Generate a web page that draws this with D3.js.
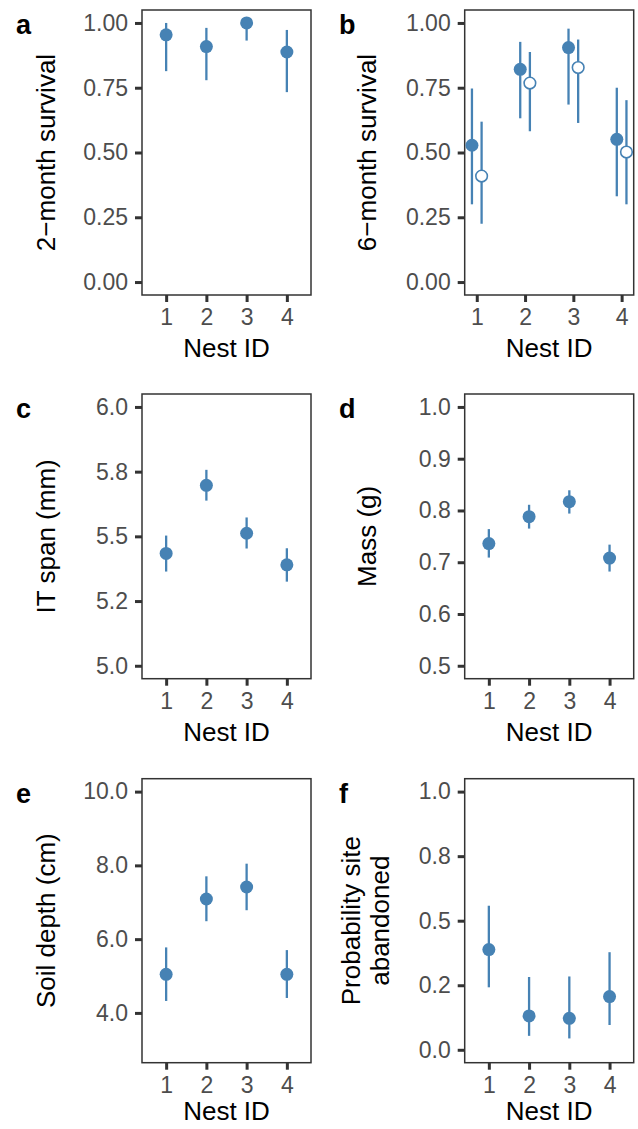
<!DOCTYPE html>
<meta charset="utf-8">
<script src="https://d3js.org/d3.v7.min.js"></script>
<style>
  body { margin: 0; background: #fff; }
  svg text { font-family: "Liberation Sans", Arial, sans-serif; }
</style>
<div id="chart"></div>
<script>

// nest ids on the x axis of every panel
var nests = ["1", "2", "3", "4"];

// a: 2-month survival
var surv2    = [0.954, 0.909, 1.000, 0.888];
var surv2Lo  = [0.814, 0.779, 0.932, 0.733];
var surv2Hi  = [1.000, 0.981, 1.000, 0.973];

// b: 6-month survival, filled and open points
var surv6A   = [0.528, 0.821, 0.905, 0.551];
var surv6ALo = [0.300, 0.632, 0.685, 0.331];
var surv6AHi = [0.747, 0.927, 0.978, 0.750];
var surv6B   = [0.409, 0.768, 0.828, 0.502];
var surv6BLo = [0.225, 0.582, 0.614, 0.300];
var surv6BHi = [0.619, 0.888, 0.936, 0.702];

// c: IT span
var span     = [5.434, 5.697, 5.512, 5.390];
var spanLo   = [5.364, 5.638, 5.453, 5.325];
var spanHi   = [5.503, 5.757, 5.573, 5.454];

// d: mass
var mass     = [0.736, 0.788, 0.817, 0.708];
var massLo   = [0.709, 0.765, 0.794, 0.682];
var massHi   = [0.764, 0.811, 0.839, 0.734];

// e: soil depth
var soil     = [5.046, 7.089, 7.414, 5.046];
var soilLo   = [4.324, 6.486, 6.784, 4.405];
var soilHi   = [5.776, 7.703, 8.046, 5.703];

// f: probability site abandoned
var aband    = [0.388, 0.131, 0.122, 0.206];
var abandLo  = [0.242, 0.054, 0.044, 0.096];
var abandHi  = [0.558, 0.282, 0.284, 0.378];

// y ticks and their labels
var ticksSurv   = [0, 0.25, 0.5, 0.75, 1];
var labelsSurv  = ["0.00", "0.25", "0.50", "0.75", "1.00"];
var ticksSpan   = [5, 5.25, 5.5, 5.75, 6];
var labelsSpan  = ["5.0", "5.2", "5.5", "5.8", "6.0"];
var ticksMass   = [0.5, 0.6, 0.7, 0.8, 0.9, 1.0];
var labelsMass  = ["0.5", "0.6", "0.7", "0.8", "0.9", "1.0"];
var ticksSoil   = [4, 6, 8, 10];
var labelsSoil  = ["4.0", "6.0", "8.0", "10.0"];
var ticksProb   = [0, 0.25, 0.5, 0.75, 1];
var labelsProb  = ["0.0", "0.2", "0.5", "0.8", "1.0"];

var blue = "steelblue";
var W = 638, H = 1129;

var svg = d3.select("#chart").append("svg")
    .attr("width", W)
    .attr("height", H);

var cols = [[142, 311], [464.7, 633.7]];
var rows = [[10, 295], [394, 678.7], [778.7, 1062.7]];

function rows2(v, lo, hi) {
  return nests.map(function(n, i) { return {id: n, v: v[i], lo: lo[i], hi: hi[i]}; });
}

function panel(o) {
  var x0 = cols[o.col][0], x1 = cols[o.col][1];
  var y0 = rows[o.row][0], y1 = rows[o.row][1];
  var g = svg.append("g");

  var x = d3.scalePoint().domain(nests).range([x0, x1]).padding(o.pad);
  var step = x.step();
  var y = d3.scaleLinear().domain(o.domain).range([y1, y0]);

  // y axis
  var ya = g.append("g")
      .attr("transform", "translate(" + x0 + ",0)")
      .call(d3.axisLeft(y).tickValues(o.ticks).tickSize(7).tickPadding(7)
        .tickFormat(function(d, i) { return o.labels[i]; }));
  // x axis
  var xa = g.append("g")
      .attr("transform", "translate(0," + y1 + ")")
      .call(d3.axisBottom(x).tickSize(7).tickPadding(7));
  [ya, xa].forEach(function(a) {
    a.attr("font-size", 23).attr("font-family", "Liberation Sans, Arial, sans-serif");
    a.select(".domain").remove();
    a.selectAll(".tick line").attr("stroke", "#333").attr("stroke-width", 3);
    a.selectAll(".tick text").attr("fill", "#4d4d4d");
  });

  // panel border
  g.append("rect")
      .attr("x", x0).attr("y", y0)
      .attr("width", x1 - x0).attr("height", y1 - y0)
      .attr("fill", "none").attr("stroke", "#333").attr("stroke-width", 1.5);

  o.series.forEach(function(s) {
    var dx = (s.dodge || 0) * step;
    var d = rows2(s.v, s.lo, s.hi);
    g.selectAll(null).data(d).enter().append("line")
        .attr("x1", function(p) { return x(p.id) + dx; })
        .attr("x2", function(p) { return x(p.id) + dx; })
        .attr("y1", function(p) { return y(p.lo); })
        .attr("y2", function(p) { return y(p.hi); })
        .attr("stroke", blue).attr("stroke-width", 2.3);
    g.selectAll(null).data(d).enter().append("circle")
        .attr("cx", function(p) { return x(p.id) + dx; })
        .attr("cy", function(p) { return y(p.v); })
        .attr("r", s.open ? 5.8 : 6.5)
        .attr("fill", s.open ? "#fff" : blue)
        .attr("stroke", blue).attr("stroke-width", s.open ? 1.6 : 0);
  });

  // y title
  var tx = o.col === 0 ? 46 : 367;
  var yt = g.append("text")
      .attr("transform", "translate(" + (o.titleX || tx) + "," + ((y0 + y1) / 2) + ") rotate(-90)")
      .attr("text-anchor", "middle")
      .attr("font-size", 26).attr("fill", "#000");
  o.title.forEach(function(t, i) {
    yt.append("tspan").attr("x", 0).attr("dy", i === 0 ? (-(o.title.length - 1) * 14) + 9 : 29).text(t);
  });

  // x title (bottom row pulled up a little so it stays inside the page)
  g.append("text")
      .attr("x", (x0 + x1) / 2).attr("y", y1 + (o.row === 2 ? 57 : 62))
      .attr("text-anchor", "middle")
      .attr("font-size", 26).attr("fill", "#000")
      .text("Nest ID");

  // panel letter
  g.append("text")
      .attr("x", o.col === 0 ? 16 : 339).attr("y", y0 + 24)
      .attr("font-size", 27).attr("font-weight", "bold").attr("fill", "#000")
      .text(o.letter);
}

panel({letter: "a", col: 0, row: 0, pad: 0.6, domain: [-0.05, 1.05],
  ticks: ticksSurv, labels: labelsSurv, title: ["2\u2212month survival"],
  series: [{v: surv2, lo: surv2Lo, hi: surv2Hi}]});

panel({letter: "b", col: 1, row: 0, pad: 0.25, domain: [-0.05, 1.05],
  ticks: ticksSurv, labels: labelsSurv, title: ["6\u2212month survival"],
  series: [{v: surv6A, lo: surv6ALo, hi: surv6AHi, dodge: -0.1},
           {v: surv6B, lo: surv6BLo, hi: surv6BHi, dodge: 0.1, open: true}]});

panel({letter: "c", col: 0, row: 1, pad: 0.6, domain: [4.95, 6.05],
  ticks: ticksSpan, labels: labelsSpan, title: ["IT span (mm)"],
  series: [{v: span, lo: spanLo, hi: spanHi}]});

panel({letter: "d", col: 1, row: 1, pad: 0.6, domain: [0.475, 1.025],
  ticks: ticksMass, labels: labelsMass, title: ["Mass (g)"],
  series: [{v: mass, lo: massLo, hi: massHi}]});

panel({letter: "e", col: 0, row: 2, pad: 0.6, domain: [2.65, 10.35],
  ticks: ticksSoil, labels: labelsSoil, title: ["Soil depth (cm)"],
  series: [{v: soil, lo: soilLo, hi: soilHi}]});

panel({letter: "f", col: 1, row: 2, pad: 0.6, domain: [-0.05, 1.05],
  ticks: ticksProb, labels: labelsProb, title: ["Probability site", "abandoned"], titleX: 365,
  series: [{v: aband, lo: abandLo, hi: abandHi}]});

</script>
